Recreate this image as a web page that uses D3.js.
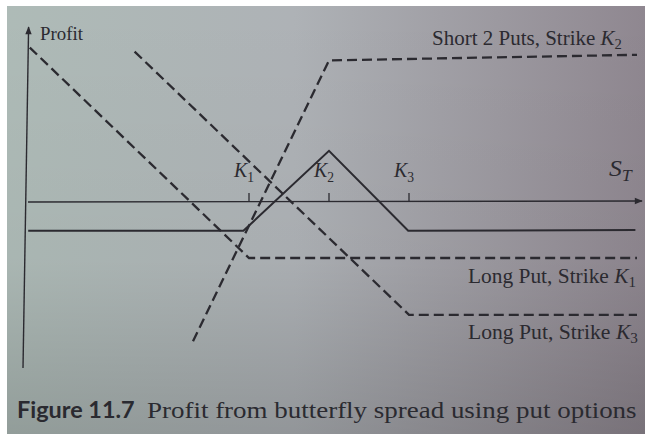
<!DOCTYPE html>
<html>
<head>
<meta charset="utf-8">
<script src="https://cdn.jsdelivr.net/npm/d3@7/dist/d3.min.js"></script>
<style>
  html, body { margin: 0; padding: 0; background: #fff; }
  svg { display: block; }
</style>
</head>
<body>
<svg id="chart" width="645" height="434"></svg>
<script>
// Butterfly spread built from put options: profit vs. terminal stock price S_T
const strikes = [40, 50, 60];
const strikeSubs = ["1", "2", "3"];

// Vertices (S_T, profit) of each payoff line
const longPutK1 = [[12.6, 19.3], [40, -7], [88.5, -7]];
const longPutK3 = [[25.7, 18.8], [60, -14.1], [88.5, -14.1]];
const short2PutsK2 = [[33, -17.4], [50, 17.7], [88.5, 18.4]];
const butterfly = [[12.4, -3.6], [39.3, -3.6], [50, 6.4], [59.9, -3.6], [88.3, -3.5]];

const seriesNames = ["Short 2 Puts, Strike ", "Long Put, Strike ", "Long Put, Strike "];
const seriesSubs = ["2", "1", "3"];

const svg = d3.select("#chart");
const W = 645, H = 434;
const ink = "#2b2a30";
const serif = "Liberation Serif";

// paper background
const defs = svg.append("defs");
const gh = defs.append("linearGradient").attr("id", "paperH").attr("x1", 0).attr("x2", 1).attr("y1", 0).attr("y2", 0);
gh.append("stop").attr("offset", "0").attr("stop-color", "#aebbb7");
gh.append("stop").attr("offset", "0.45").attr("stop-color", "#aeb2b6");
gh.append("stop").attr("offset", "1").attr("stop-color", "#8f8790");
const gv = defs.append("linearGradient").attr("id", "paperV").attr("x1", 0).attr("x2", 0).attr("y1", 0).attr("y2", 1);
gv.append("stop").attr("offset", "0").attr("stop-color", "#000").attr("stop-opacity", 0);
gv.append("stop").attr("offset", "0.6").attr("stop-color", "#000").attr("stop-opacity", 0.03);
gv.append("stop").attr("offset", "1").attr("stop-color", "#000").attr("stop-opacity", 0.16);

svg.append("rect").attr("width", W).attr("height", H).attr("fill", "#ffffff");
svg.append("rect").attr("x", 7).attr("y", 6).attr("width", W - 7).attr("height", H - 6).attr("fill", "url(#paperH)");
svg.append("rect").attr("x", 7).attr("y", 6).attr("width", W - 7).attr("height", H - 6).attr("fill", "url(#paperV)");

// scales
const x = d3.scaleLinear().domain([12.375, 88.75]).range([28, 639]);
const y = d3.scaleLinear().domain([0, 20]).range([202, 42]);

// stretch a text group horizontally so it spans the given width, left edge at x0
function fit(g, x0, baseline, width) {
  const b = g.node().getBBox();
  const k = width / b.width;
  g.attr("transform", `translate(${x0 - b.x * k},${baseline}) scale(${k},1)`);
}

// arrow head
defs.append("marker").attr("id", "arrow").attr("viewBox", "0 0 10 10")
  .attr("refX", 9).attr("refY", 5).attr("markerWidth", 11).attr("markerHeight", 8)
  .attr("markerUnits", "userSpaceOnUse").attr("orient", "auto")
  .append("path").attr("d", "M0,1 L10,5 L0,9 Z").attr("fill", ink);

// x axis
svg.append("line")
  .attr("x1", x(12.375)).attr("y1", y(0)).attr("x2", 642).attr("y2", y(0) - 1)
  .attr("stroke", ink).attr("stroke-width", 1.4).attr("marker-end", "url(#arrow)");

// y axis
svg.append("line")
  .attr("x1", 23).attr("y1", 368).attr("x2", 28.6).attr("y2", 27)
  .attr("stroke", ink).attr("stroke-width", 1.4).attr("marker-end", "url(#arrow)");

// strike ticks
svg.selectAll("line.tick").data(strikes).join("line").attr("class", "tick")
  .attr("x1", d => x(d)).attr("x2", d => x(d))
  .attr("y1", y(0)).attr("y2", y(0) - 9)
  .attr("stroke", ink).attr("stroke-width", 1.3);

// strike labels K1, K2, K3
strikes.forEach((s, i) => {
  const g = svg.append("g");
  const t = g.append("text").attr("font-family", serif).attr("font-size", 22).attr("fill", ink);
  t.append("tspan").attr("font-style", "italic").text("K");
  t.append("tspan").attr("font-size", 15).attr("dy", 5).text(strikeSubs[i]);
  fit(g, x(s) - 16, 177, 21);
});

// S_T label
{
  const g = svg.append("g");
  const t = g.append("text").attr("font-family", serif).attr("font-size", 23).attr("fill", ink);
  t.append("tspan").attr("font-style", "italic").text("S");
  t.append("tspan").attr("font-style", "italic").attr("font-size", 16).attr("dy", 5).text("T");
  fit(g, 609, 176, 24);
}

// Profit label
{
  const g = svg.append("g");
  g.append("text").attr("font-family", serif).attr("font-size", 18).attr("fill", ink).text("Profit");
  fit(g, 40, 40, 43);
}

// payoff lines
const line = d3.line().x(d => x(d[0])).y(d => y(d[1]));
const dashed = [short2PutsK2, longPutK1, longPutK3];
svg.selectAll("path.put").data(dashed).join("path").attr("class", "put")
  .attr("d", line).attr("fill", "none").attr("stroke", ink)
  .attr("stroke-width", 2.3).attr("stroke-dasharray", "10,5");

svg.append("path").datum(butterfly).attr("d", line)
  .attr("fill", "none").attr("stroke", ink).attr("stroke-width", 2)
  .attr("stroke-linejoin", "miter");

// line labels
const labelLayout = [
  { x0: 432, base: 45, w: 190 },
  { x0: 468, base: 283, w: 168 },
  { x0: 468, base: 339, w: 170 }
];
seriesNames.forEach((name, i) => {
  const g = svg.append("g");
  const t = g.append("text").attr("font-family", serif).attr("font-size", 20).attr("fill", ink);
  t.append("tspan").text(name);
  t.append("tspan").attr("font-style", "italic").text("K");
  t.append("tspan").attr("font-size", 14).attr("dy", 4).text(seriesSubs[i]);
  const L = labelLayout[i];
  fit(g, L.x0, L.base, L.w);
});

// caption
{
  const g1 = svg.append("g");
  g1.append("text").attr("font-family", "Lato").attr("font-weight", "bold")
    .attr("font-size", 22).attr("fill", "#2a2a30").text("Figure 11.7");
  fit(g1, 17, 418, 118);
  const g2 = svg.append("g");
  g2.append("text").attr("font-family", serif).attr("font-size", 23)
    .attr("fill", "#2a2a30").text("Profit from butterfly spread using put options");
  fit(g2, 147, 418, 490);
}
</script>
</body>
</html>
